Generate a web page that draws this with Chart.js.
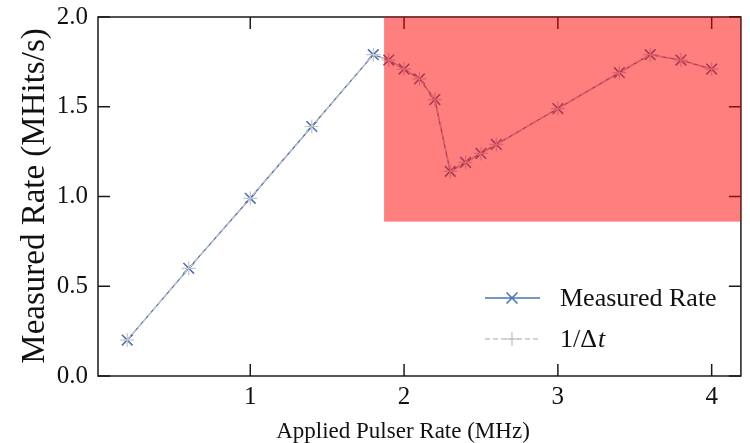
<!DOCTYPE html>
<html>
<head>
<meta charset="utf-8">
<script src="https://cdn.jsdelivr.net/npm/chart.js@4"></script>
<style>
  html,body{margin:0;padding:0;background:#fff;}
  #c{display:block;}
</style>
</head>
<body>
<canvas id="c" width="750" height="443"></canvas>
<script>
// ---- data ----
const pulserRate = [0.2, 0.6, 1.0, 1.4, 1.8, 1.9, 2.0, 2.1, 2.2, 2.3, 2.4, 2.5, 2.6, 3.0, 3.4, 3.6, 3.8, 4.0];
const measuredRate = [0.20, 0.60, 0.99, 1.39, 1.79, 1.76, 1.71, 1.655, 1.54, 1.14, 1.19, 1.24, 1.29, 1.49, 1.69, 1.79, 1.76, 1.71];
const inverseDeltaT = [0.20, 0.60, 0.99, 1.39, 1.79, 1.76, 1.71, 1.655, 1.54, 1.14, 1.19, 1.24, 1.29, 1.49, 1.69, 1.79, 1.76, 1.71];
const xTickValues = [1, 2, 3, 4];
const yTickValues = [0.0, 0.5, 1.0, 1.5, 2.0];
const xLimits = [0.01, 4.19];
const yLimits = [0.0, 2.0];
const shadedRegion = { xFrom: 1.87, yFrom: 0.86 }; // extends to top-right of axes
const seriesLabels = ['Measured Rate', '1/\u0394t'];
const axisTitles = { x: 'Applied Pulser Rate (MHz)', y: 'Measured Rate (MHits/s)' };

const BLUE = '#4a72b8';
const GREY = '#c4c4c4';
const SERIF = "'Liberation Serif', 'DejaVu Serif', serif";

const toPoints = (xs, ys) => xs.map((v, i) => ({ x: v, y: ys[i] }));

function line(ctx, x1, y1, x2, y2) { ctx.beginPath(); ctx.moveTo(x1, y1); ctx.lineTo(x2, y2); ctx.stroke(); }

const framePlugin = {
  id: 'frame',
  beforeDatasetsDraw(chart) {
    const { ctx, chartArea: { left, right, top, bottom }, scales: { x, y } } = chart;
    ctx.save();
    ctx.strokeStyle = '#1a1a1a';
    ctx.lineWidth = 1.5;
    ctx.strokeRect(left, top, right - left, bottom - top);
    const L = 12;
    x.ticks.forEach(t => {
      const px = x.getPixelForValue(t.value);
      line(ctx, px, bottom, px, bottom - L);
      line(ctx, px, top, px, top + L);
    });
    y.ticks.forEach(t => {
      const py = y.getPixelForValue(t.value);
      line(ctx, left, py, left + L, py);
      line(ctx, right, py, right - L, py);
    });
    ctx.restore();
  },
  afterDatasetsDraw(chart) {
    const { ctx, chartArea: { left, right, top, bottom }, scales: { x, y } } = chart;
    const x0 = x.getPixelForValue(shadedRegion.xFrom);
    const y0 = y.getPixelForValue(shadedRegion.yFrom);
    ctx.save();
    ctx.fillStyle = 'rgba(255,0,0,0.5)';
    ctx.fillRect(x0, top, right - x0, y0 - top);
    ctx.restore();
  },
  afterDraw(chart) {
    const { ctx } = chart;
    ctx.save();
    ctx.fillStyle = '#111';
    ctx.font = '23px ' + SERIF;
    ctx.textAlign = 'center';
    ctx.textBaseline = 'alphabetic';
    ctx.fillText(axisTitles.x, 403, 438);
    ctx.save();
    ctx.translate(44, 196);
    ctx.rotate(-Math.PI / 2);
    ctx.font = '33px ' + SERIF;
    ctx.fillText(axisTitles.y, 0, 0);
    ctx.restore();

    // legend
    const lx1 = 485, lx2 = 540, mx = 512;
    const rows = [298, 339];
    ctx.strokeStyle = BLUE; ctx.lineWidth = 1.3; ctx.setLineDash([]);
    line(ctx, lx1, rows[0], lx2, rows[0]);
    const r = 5.5;
    ctx.lineWidth = 1.6;
    line(ctx, mx - r, rows[0] - r, mx + r, rows[0] + r);
    line(ctx, mx - r, rows[0] + r, mx + r, rows[0] - r);
    ctx.strokeStyle = GREY; ctx.lineWidth = 1.3; ctx.setLineDash([5, 3]);
    line(ctx, lx1, rows[1], lx2, rows[1]);
    ctx.setLineDash([]);
    line(ctx, mx - 7, rows[1], mx + 7, rows[1]);
    line(ctx, mx, rows[1] - 7, mx, rows[1] + 7);

    ctx.fillStyle = '#111';
    ctx.textAlign = 'left';
    ctx.textBaseline = 'middle';
    ctx.font = '26px ' + SERIF;
    ctx.fillText(seriesLabels[0], 560, rows[0] + 1);
    const base = seriesLabels[1].slice(0, -1);
    const last = seriesLabels[1].slice(-1);
    ctx.fillText(base, 560, rows[1] + 1);
    const w = ctx.measureText(base).width;
    ctx.font = 'italic 26px ' + SERIF;
    ctx.fillText(last, 560 + w + 1, rows[1] + 1);
    ctx.restore();
  }
};

new Chart(document.getElementById('c'), {
  type: 'scatter',
  data: {
    datasets: [
      {
        label: seriesLabels[1],
        data: toPoints(pulserRate, inverseDeltaT),
        showLine: true,
        order: 0,
        borderColor: GREY,
        backgroundColor: GREY,
        borderWidth: 1.5,
        borderDash: [5, 3],
        pointStyle: 'cross',
        pointRadius: 7,
        pointBorderWidth: 1.2,
        pointBorderColor: GREY,
        tension: 0
      },
      {
        label: seriesLabels[0],
        data: toPoints(pulserRate, measuredRate),
        showLine: true,
        order: 1,
        borderColor: BLUE,
        backgroundColor: BLUE,
        borderWidth: 1.3,
        pointStyle: 'crossRot',
        pointRadius: 7.5,
        pointBorderWidth: 1.6,
        pointBorderColor: BLUE,
        tension: 0
      }
    ]
  },
  options: {
    responsive: false,
    animation: false,
    events: [],
    layout: { padding: { top: 17, right: 1, left: 0, bottom: 0 } },
    plugins: { legend: { display: false }, tooltip: { enabled: false } },
    scales: {
      x: {
        type: 'linear',
        min: xLimits[0], max: xLimits[1],
        grid: { display: false, drawTicks: false },
        border: { display: false },
        afterBuildTicks: s => { s.ticks = xTickValues.map(v => ({ value: v })); },
        afterFit: s => { s.height = 67; s.paddingLeft = 0; s.paddingRight = 0; },
        ticks: {
          color: '#111',
          padding: 6,
          maxRotation: 0,
          font: { family: SERIF, size: 25 },
          callback: v => String(v)
        }
      },
      y: {
        type: 'linear',
        min: yLimits[0], max: yLimits[1],
        grid: { display: false, drawTicks: false },
        border: { display: false },
        afterBuildTicks: s => { s.ticks = yTickValues.map(v => ({ value: v })); },
        afterFit: s => { s.width = 98; s.paddingTop = 0; s.paddingBottom = 0; },
        ticks: {
          color: '#111',
          padding: 10,
          font: { family: SERIF, size: 25 },
          callback: v => Number(v).toFixed(1)
        }
      }
    }
  },
  plugins: [framePlugin]
});
</script>
</body>
</html>
